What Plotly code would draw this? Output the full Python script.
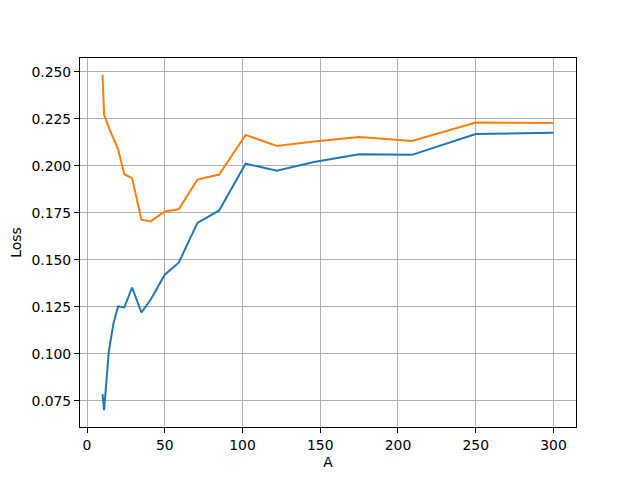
import plotly.graph_objects as go

a_values = [10, 11, 14, 17, 20, 24, 29, 35, 41, 50, 59, 71, 85, 102, 122, 146, 175, 209, 250, 300]
loss_blue = [0.0785, 0.0699, 0.1011, 0.1160, 0.1252, 0.1246, 0.1352, 0.1219, 0.1288, 0.1420,
             0.1484, 0.1696, 0.1762, 0.2011, 0.1973, 0.2020, 0.2061, 0.2058, 0.2169, 0.2176]
loss_orange = [0.2484, 0.2271, 0.2204, 0.2146, 0.2087, 0.1955, 0.1934, 0.1713, 0.1704, 0.1757,
               0.1768, 0.1926, 0.1953, 0.2164, 0.2105, 0.2129, 0.2153, 0.2132, 0.2230, 0.2227]

x_ticks = [0, 50, 100, 150, 200, 250, 300]
y_ticks = [0.075, 0.100, 0.125, 0.150, 0.175, 0.200, 0.225, 0.250]

font = dict(family="DejaVu Sans", size=13.9, color="black")

fig = go.Figure()
fig.add_trace(go.Scatter(x=a_values, y=loss_blue, mode="lines",
                         line=dict(color="#1f77b4", width=2), showlegend=False))
fig.add_trace(go.Scatter(x=a_values, y=loss_orange, mode="lines",
                         line=dict(color="#ff7f0e", width=2), showlegend=False))

xmin, xmax = min(a_values), max(a_values)
xr = xmax - xmin
allv = loss_blue + loss_orange
ymin, ymax = min(allv), max(allv)
yr = ymax - ymin

axis_common = dict(
    showline=True, mirror=True, linecolor="black", linewidth=1,
    ticks="outside", ticklen=5, tickwidth=1, tickcolor="black",
    showgrid=True, gridcolor="#b0b0b0", gridwidth=1, zeroline=False,
    tickfont=font, automargin=False,
)

# page body has an 8px margin; size the figure so the plot area lands at 80..576 x 58..427
fig.update_layout(
    width=632, height=472,
    margin=dict(l=72, r=64, t=50, b=53, pad=0),
    paper_bgcolor="white", plot_bgcolor="white",
    font=font,
    xaxis=dict(range=[xmin - 0.05 * xr, xmax + 0.05 * xr], tickvals=x_ticks,
               ticktext=[str(v) for v in x_ticks],
               title=dict(text="A", font=font, standoff=5), **axis_common),
    yaxis=dict(range=[ymin - 0.05 * yr, ymax + 0.05 * yr], tickvals=y_ticks,
               ticktext=[f"{v:.3f}" for v in y_ticks],
               title=dict(text="Loss", font=font, standoff=9), **axis_common),
)

fig.write_html("out.html")
